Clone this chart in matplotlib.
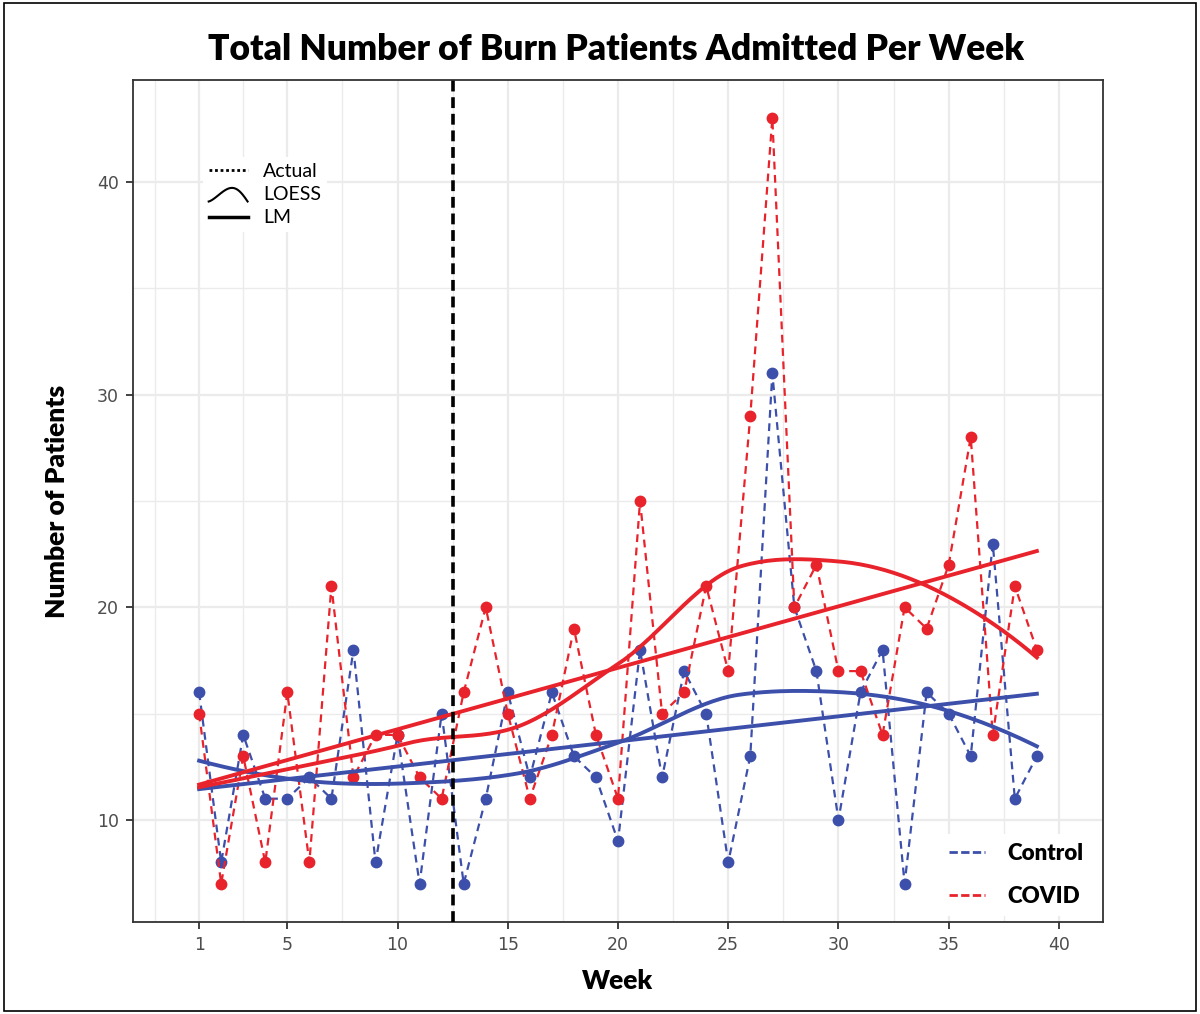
import numpy as np
import matplotlib
matplotlib.use('Agg')
import matplotlib.pyplot as plt
from matplotlib.lines import Line2D
from matplotlib.legend_handler import HandlerBase
from matplotlib.patches import Rectangle

# Weekly admissions
weeks = list(range(1, 40))
control = [16, 8, 14, 11, 11, 12, 11, 18, 8, 14,
           7, 15, 7, 11, 16, 12, 16, 13, 12, 9,
           18, 12, 17, 15, 8, 13, 31, 20, 17, 10,
           16, 18, 7, 16, 15, 13, 23, 11, 13]
covid = [15, 7, 13, 8, 16, 8, 21, 12, 14, 14,
         12, 11, 16, 20, 15, 11, 14, 19, 14, 11,
         25, 15, 16, 21, 17, 29, 43, 20, 22, 17,
         17, 14, 20, 19, 22, 28, 14, 21, 18]
cutoff_week = 12.5
x_ticks = [1, 5, 10, 15, 20, 25, 30, 35, 40]
y_ticks = [10, 20, 30, 40]

RED = '#E8232B'
BLUE = '#3C4FAA'


def local_fit(x, y, x0, q):
    # local quadratic fit with tricube weights -> value and slope at x0
    d = np.abs(x - x0)
    h = np.sort(d)[q - 1]
    w = np.clip(1 - (d / h) ** 3, 0, None) ** 3
    A = np.vstack([np.ones_like(x), x - x0, (x - x0) ** 2]).T
    W = np.sqrt(w)
    coef = np.linalg.lstsq(A * W[:, None], y * W, rcond=None)[0]
    return coef[0], coef[1]


def loess(x, y, xs, span=0.75):
    # roughly like R's loess(): fits at kd-tree vertices, cubic Hermite between
    x = np.asarray(x, float)
    y = np.asarray(y, float)
    q = int(np.floor(span * len(x)))
    fc = int(np.floor(len(x) * span * 0.2))
    lo, hi = x.min(), x.max()
    margin = 0.005 * (hi - lo)
    verts = {lo - margin, hi + margin}

    def split(pts):
        if len(pts) <= fc:
            return
        m = len(pts) // 2
        cut = (pts[m - 1] + pts[m]) / 2 if len(pts) % 2 == 0 else pts[m]
        verts.add(cut)
        split(pts[pts <= cut])
        split(pts[pts > cut])

    split(np.sort(x))
    v = np.array(sorted(verts))
    fits = np.array([local_fit(x, y, vv, q) for vv in v])
    out = []
    for x0 in xs:
        i = min(np.searchsorted(v, x0) - 1, len(v) - 2)
        i = max(i, 0)
        x1, x2 = v[i], v[i + 1]
        hh = x2 - x1
        t = (x0 - x1) / hh
        f1, d1 = fits[i]
        f2, d2 = fits[i + 1]
        h00 = 2 * t ** 3 - 3 * t ** 2 + 1
        h10 = t ** 3 - 2 * t ** 2 + t
        h01 = -2 * t ** 3 + 3 * t ** 2
        h11 = t ** 3 - t ** 2
        out.append(h00 * f1 + h10 * hh * d1 + h01 * f2 + h11 * hh * d2)
    return np.array(out)


class ArcHandler(HandlerBase):
    def create_artists(self, legend, orig_handle, xdescent, ydescent,
                       width, height, fontsize, trans):
        t = np.linspace(0, 1, 40)
        xs = -xdescent + t * width
        ys = -ydescent + height * (-0.1 + 1.0 * np.sin(np.pi * t ** 1.35))
        ln = Line2D(xs, ys, color='black', lw=1.5, transform=trans)
        return [ln]


fig = plt.figure(figsize=(12, 10.14), dpi=100)
ax = fig.add_axes([133 / 1200, 1 - 922 / 1014, 970 / 1200, 842 / 1014])

xs = np.linspace(1, 39, 200)
for vals, col in [(control, BLUE), (covid, RED)]:
    ax.plot(weeks, vals, color=col, lw=1.6, ls=(0, (3.5, 2.5)),
            marker='o', ms=7.5, zorder=3)
    a, b = np.polyfit(weeks, vals, 1)
    ax.plot(xs, a * xs + b, color=col, lw=2.8, zorder=4)
    ax.plot(xs, loess(weeks, vals, xs), color=col, lw=2.8, zorder=4)

ax.axvline(cutoff_week, color='black', lw=2.6, ls=(0, (3, 1.6)), zorder=5)

ax.set_xlim(-2, 42)
ax.set_ylim(5.2, 44.8)
ax.set_xticks(x_ticks)
ax.set_yticks(y_ticks)
ax.set_xticks([-1, 3, 7.5, 12.5, 17.5, 22.5, 27.5, 32.5, 37.5], minor=True)
ax.set_yticks([15, 25, 35], minor=True)
ax.grid(which='major', color='#EBEBEB', lw=1.6, zorder=0)
ax.grid(which='minor', color='#EBEBEB', lw=1.0, zorder=0)
ax.set_axisbelow(True)
ax.tick_params(which='minor', length=0)
ax.tick_params(which='major', length=5, width=1.3, color='#333333',
               labelsize=12.5, labelcolor='#4D4D4D', pad=5)
for s in ax.spines.values():
    s.set_color('#333333')
    s.set_linewidth(1.3)

ax.set_xlabel('Week', family='Lato', weight='heavy', fontsize=19, labelpad=11)
ax.set_ylabel('Number of Patients', family='Lato', weight='heavy', fontsize=19,
              labelpad=20)
fig.text(0.5135, 1 - 50 / 1014, 'Total Number of Burn Patients Admitted Per Week',
         family='Lato', weight='heavy', fontsize=25.5, ha='center', va='center')

# line-type legend
h_actual = Line2D([], [], color='black', lw=2, ls=(0, (1, 1)))
h_loess = object()
h_lm = Line2D([], [], color='black', lw=2.5)
leg1 = ax.legend([h_actual, h_loess, h_lm], ['Actual', 'LOESS', 'LM'],
                 handler_map={object: ArcHandler()},
                 loc='upper left', bbox_to_anchor=(0.062, 0.92),
                 prop={'family': 'Lato', 'size': 14}, frameon=True,
                 facecolor='white', edgecolor='none', framealpha=1,
                 fancybox=False, handlelength=2.0, labelspacing=0.32,
                 handletextpad=0.8, borderpad=0.3)
ax.add_artist(leg1)

# group legend
h_ctrl = Line2D([], [], color=BLUE, lw=2, ls=(0, (3, 1.2)))
h_cov = Line2D([], [], color=RED, lw=2, ls=(0, (3, 1.2)))
ax.legend([h_ctrl, h_cov], ['Control', 'COVID'],
          loc='lower right', bbox_to_anchor=(1.0, -0.006),
          prop={'family': 'Lato', 'weight': 'heavy', 'size': 16}, frameon=True,
          facecolor='white', edgecolor='none', framealpha=1, fancybox=False,
          handlelength=1.6, labelspacing=1.0, handletextpad=1.0)

fig.patches.append(Rectangle((0.003, 0.003), 0.994, 0.994, transform=fig.transFigure,
                             fill=False, edgecolor='black', lw=1.2))

plt.savefig('out.png', dpi=100)
